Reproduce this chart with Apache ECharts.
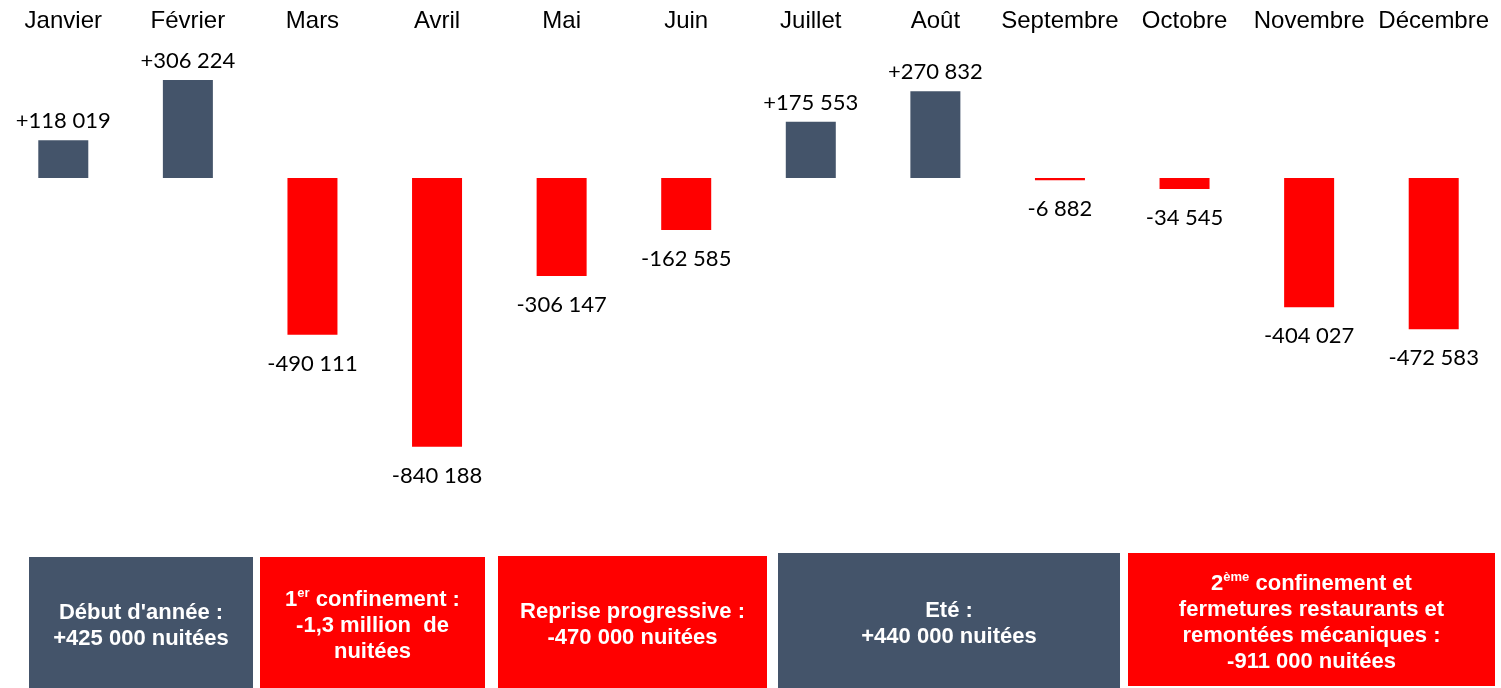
<!DOCTYPE html>
<html>
<head>
<meta charset="utf-8">
<script src="https://cdn.jsdelivr.net/npm/echarts@6/dist/echarts.min.js"></script>
<style>
  html, body { margin: 0; padding: 0; background: #fff; }
  #chart { width: 1501px; height: 688px; }
</style>
</head>
<body>
<div id="chart"></div>
<script>
// monthly change in overnight stays
var months = ['Janvier', 'Février', 'Mars', 'Avril', 'Mai', 'Juin',
              'Juillet', 'Août', 'Septembre', 'Octobre', 'Novembre', 'Décembre'];
var variations = [118019, 306224, -490111, -840188, -306147, -162585,
                  175553, 270832, -6882, -34545, -404027, -472583];

// period summary boxes
var periodTexts = [
  "Début d'année :\n+425 000 nuitées",
  "1{sup|er} confinement :\n-1,3 million  de\nnuitées",
  "Reprise progressive :\n-470 000 nuitées",
  "Eté :\n+440 000 nuitées",
  "2{sup|ème} confinement et\nfermetures restaurants et\nremontées mécaniques :\n-911 000 nuitées"
];
var periodSigns = [1, -1, -1, 1, -1];

var BLUE = '#44546A';
var RED = '#FF0000';

// box rectangles [x, y, w, h]
var boxes = [
  [29, 557, 224, 131],
  [260, 557, 225, 131],
  [498, 556, 269, 132],
  [778, 553, 342, 135],
  [1128, 553, 367, 133]
];

function fmt(v) {
  var s = String(Math.abs(v)).replace(/\B(?=(\d{3})+(?!\d))/g, ' ');
  return (v > 0 ? '+' : '-') + s;
}

var barData = variations.map(function (v) {
  return {
    value: v,
    itemStyle: { color: v >= 0 ? BLUE : RED },
    label: { position: v >= 0 ? 'top' : 'bottom', distance: v >= 0 ? 8 : 18 }
  };
});

var graphics = [];
boxes.forEach(function (b, i) {
  graphics.push({
    type: 'rect',
    shape: { x: b[0], y: b[1], width: b[2], height: b[3] },
    style: { fill: periodSigns[i] > 0 ? BLUE : RED }
  });
  graphics.push({
    type: 'text',
    x: b[0] + b[2] / 2,
    y: b[1] + b[3] / 2 + 3,
    style: {
      text: periodTexts[i],
      fill: '#fff',
      font: 'bold 22px "Liberation Sans", Arial, sans-serif',
      lineHeight: 26,
      align: 'center',
      verticalAlign: 'middle',
      rich: {
        sup: {
          fontSize: 13,
          fontWeight: 'bold',
          fontFamily: 'Liberation Sans',
          fill: '#fff',
          verticalAlign: 'top',
          lineHeight: 26
        }
      }
    }
  });
});

var chart = echarts.init(document.getElementById('chart'));
chart.setOption({
  animation: false,
  grid: { left: 1, right: 5, top: 50, bottom: 190 },
  xAxis: {
    type: 'category',
    position: 'top',
    data: months,
    axisLine: { show: false },
    axisTick: { show: false },
    axisLabel: {
      interval: 0,
      margin: 17,
      color: '#000',
      fontSize: 24,
      fontFamily: 'Liberation Sans'
    }
  },
  yAxis: {
    type: 'value',
    min: -1000000,
    max: 400000,
    show: false
  },
  series: [{
    type: 'bar',
    barWidth: 50,
    data: barData,
    label: {
      show: true,
      color: '#000',
      fontSize: 22,
      fontFamily: 'Lato',
      formatter: function (p) { return fmt(p.value); }
    }
  }],
  graphic: graphics
});
</script>
</body>
</html>
